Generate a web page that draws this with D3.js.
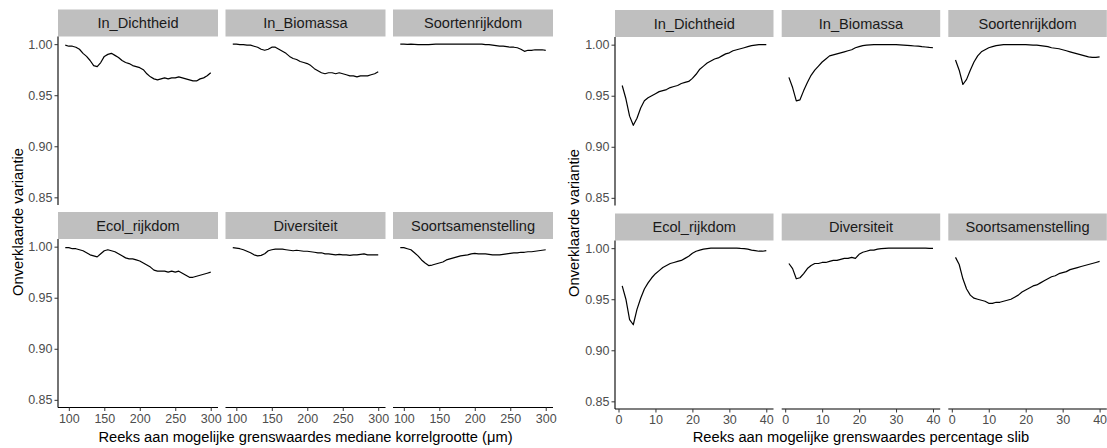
<!DOCTYPE html>
<html>
<head>
<meta charset="utf-8">
<script src="https://cdn.jsdelivr.net/npm/d3@7"></script>
<style>
  html, body { margin: 0; padding: 0; background: #fff; }
  svg { display: block; font-family: "Liberation Sans", Arial, sans-serif; }
</style>
</head>
<body>
<svg id="chart" width="1107" height="448"></svg>
<script>
// Facet names (same order in both figures)
const facetNames = ["In_Dichtheid", "In_Biomassa", "Soortenrijkdom", "Ecol_rijkdom", "Diversiteit", "Soortsamenstelling"];

// Shared y axis
const yTicks = [0.85, 0.90, 0.95, 1.00];
const yTickLabels = ["0.85", "0.90", "0.95", "1.00"];
const yTitle = "Onverklaarde variantie";

// Figure 1: threshold on median grain size (µm)
const korrelTicks = [100, 150, 200, 250, 300];
const korrelTickLabels = ["100", "150", "200", "250", "300"];
const korrelGrens = [95, 100, 105, 110, 115, 120, 125, 130, 135, 140, 145, 150, 155, 160, 165, 170, 175, 180, 185, 190, 195, 200,
  205, 210, 215, 220, 225, 230, 235, 240, 245, 250, 255, 260, 265, 270, 275, 280, 285, 290, 295, 300];
const korrelDichtheid = [0.999, 0.998, 0.998, 0.997, 0.995, 0.991, 0.988, 0.984, 0.979, 0.978, 0.982, 0.988, 0.990, 0.991, 0.989, 0.987,
  0.984, 0.982, 0.981, 0.979, 0.978, 0.977, 0.975, 0.971, 0.968, 0.966, 0.965, 0.966, 0.967, 0.966, 0.967, 0.967, 0.968, 0.967,
  0.966, 0.965, 0.964, 0.964, 0.966, 0.967, 0.969, 0.972];
const korrelBiomassa = [1.000, 1.000, 0.9995, 0.9995, 0.999, 0.999, 0.998, 0.997, 0.995, 0.994, 0.995, 0.997, 0.997, 0.995, 0.993, 0.991,
  0.988, 0.986, 0.985, 0.983, 0.982, 0.981, 0.979, 0.976, 0.974, 0.972, 0.971, 0.972, 0.972, 0.971, 0.972, 0.971, 0.970, 0.969,
  0.969, 0.968, 0.969, 0.969, 0.969, 0.970, 0.971, 0.973];
const korrelSoortenrijkdom = [1.000, 1.000, 0.9998, 1.000, 0.9998, 0.9995, 0.9995, 0.9995, 0.9995, 0.9998, 1.000, 1.000, 1.000, 1.000, 1.000, 1.000,
  1.000, 1.000, 1.000, 1.000, 1.000, 1.000, 1.000, 1.000, 0.9995, 0.9995, 0.999, 0.9985, 0.998, 0.998, 0.9975, 0.997, 0.997, 0.9965,
  0.995, 0.993, 0.994, 0.994, 0.9945, 0.9945, 0.9945, 0.994];
const korrelEcolRijkdom = [0.999, 0.999, 0.998, 0.998, 0.997, 0.996, 0.994, 0.992, 0.991, 0.990, 0.993, 0.996, 0.997, 0.996, 0.995, 0.993,
  0.991, 0.989, 0.988, 0.988, 0.987, 0.986, 0.984, 0.982, 0.980, 0.977, 0.976, 0.976, 0.976, 0.975, 0.976, 0.975, 0.976, 0.974,
  0.972, 0.970, 0.970, 0.971, 0.972, 0.973, 0.974, 0.975];
const korrelDiversiteit = [0.999, 0.9985, 0.998, 0.997, 0.9955, 0.994, 0.992, 0.991, 0.9915, 0.993, 0.996, 0.997, 0.9975, 0.9975, 0.9975, 0.997,
  0.9965, 0.996, 0.9965, 0.996, 0.9955, 0.9955, 0.995, 0.9945, 0.994, 0.994, 0.993, 0.993, 0.9925, 0.992, 0.9925, 0.992, 0.992, 0.9915,
  0.992, 0.992, 0.9925, 0.993, 0.992, 0.992, 0.992, 0.992];
const korrelSoortsamenstelling = [0.999, 0.999, 0.998, 0.997, 0.994, 0.991, 0.987, 0.984, 0.9815, 0.982, 0.983, 0.984, 0.985, 0.987, 0.988, 0.989,
  0.990, 0.991, 0.9915, 0.992, 0.993, 0.9935, 0.993, 0.993, 0.993, 0.9925, 0.992, 0.992, 0.992, 0.9925, 0.993, 0.9935, 0.994, 0.994,
  0.9945, 0.9945, 0.995, 0.995, 0.9955, 0.996, 0.9965, 0.997];

// Figure 2: threshold on silt percentage
const slibTicks = [0, 10, 20, 30, 40];
const slibTickLabels = ["0", "10", "20", "30", "40"];
const slibGrens = [1, 2, 3, 4, 5, 6, 7, 8, 9, 10, 11, 12, 13, 14, 15, 16, 17, 18, 19, 20,
  21, 22, 23, 24, 25, 26, 27, 28, 29, 30, 31, 32, 33, 34, 35, 36, 37, 38, 39, 40];
const slibDichtheid = [0.960, 0.947, 0.930, 0.921, 0.928, 0.938, 0.945, 0.948, 0.950, 0.952, 0.954, 0.955, 0.956, 0.958, 0.959, 0.960,
  0.962, 0.963, 0.964, 0.967, 0.971, 0.976, 0.979, 0.982, 0.984, 0.986, 0.987, 0.989, 0.991, 0.992, 0.994, 0.995, 0.996, 0.997,
  0.998, 0.999, 0.9995, 1.000, 1.000, 1.000];
const slibBiomassa = [0.968, 0.958, 0.945, 0.946, 0.955, 0.963, 0.970, 0.975, 0.979, 0.983, 0.986, 0.989, 0.990, 0.991, 0.992, 0.993,
  0.994, 0.995, 0.997, 0.998, 0.999, 0.9995, 0.9998, 1.000, 1.000, 1.000, 1.000, 1.000, 1.000, 1.000, 0.9998, 0.9996, 0.9993, 0.999,
  0.9987, 0.9985, 0.998, 0.9977, 0.9973, 0.997];
const slibSoortenrijkdom = [0.985, 0.975, 0.961, 0.966, 0.975, 0.983, 0.989, 0.993, 0.995, 0.997, 0.998, 0.999, 0.9995, 1.000, 1.000, 1.000,
  1.000, 1.000, 1.000, 1.000, 0.9998, 0.9996, 0.9995, 0.999, 0.9985, 0.998, 0.997, 0.9965, 0.996, 0.995, 0.994, 0.993, 0.992, 0.991,
  0.990, 0.989, 0.988, 0.9875, 0.9875, 0.988];
const slibEcolRijkdom = [0.963, 0.950, 0.930, 0.925, 0.940, 0.951, 0.960, 0.966, 0.971, 0.975, 0.978, 0.981, 0.983, 0.985, 0.986, 0.987,
  0.988, 0.990, 0.992, 0.995, 0.997, 0.998, 0.999, 0.9995, 1.000, 1.000, 1.000, 1.000, 1.000, 1.000, 1.000, 1.000, 0.9997, 0.9995,
  0.999, 0.998, 0.9975, 0.997, 0.997, 0.9975];
const slibDiversiteit = [0.985, 0.980, 0.970, 0.971, 0.975, 0.980, 0.983, 0.985, 0.985, 0.986, 0.986, 0.987, 0.988, 0.988, 0.989, 0.990,
  0.990, 0.991, 0.990, 0.994, 0.996, 0.997, 0.998, 0.998, 0.999, 0.9995, 0.9998, 1.000, 1.000, 1.000, 1.000, 1.000, 1.000, 1.000,
  1.000, 1.000, 1.000, 1.000, 0.9998, 0.9998];
const slibSoortsamenstelling = [0.991, 0.984, 0.970, 0.960, 0.954, 0.951, 0.950, 0.949, 0.948, 0.946, 0.946, 0.947, 0.947, 0.948, 0.949, 0.950,
  0.952, 0.954, 0.957, 0.959, 0.961, 0.963, 0.964, 0.966, 0.968, 0.970, 0.972, 0.973, 0.975, 0.976, 0.977, 0.979, 0.980, 0.981,
  0.982, 0.983, 0.984, 0.985, 0.986, 0.987];

const svg = d3.select("#chart");

const figures = [
  {
    x: korrelGrens,
    series: [korrelDichtheid, korrelBiomassa, korrelSoortenrijkdom, korrelEcolRijkdom, korrelDiversiteit, korrelSoortsamenstelling],
    xTicks: korrelTicks, xTickLabels: korrelTickLabels,
    xTitle: "Reeks aan mogelijke grenswaardes mediane korrelgrootte (\u03BCm)",
    cols: [58, 225.5, 393], panelW: 160,
    rows: [36.5, 239], panelH: 168.5,
    yTitleX: 18
  },
  {
    x: slibGrens,
    series: [slibDichtheid, slibBiomassa, slibSoortenrijkdom, slibEcolRijkdom, slibDiversiteit, slibSoortsamenstelling],
    xTicks: slibTicks, xTickLabels: slibTickLabels,
    xTitle: "Reeks aan mogelijke grenswaardes percentage slib",
    cols: [615, 781.7, 948.3], panelW: 158.5,
    rows: [37, 240.5], panelH: 168.5,
    yTitleX: 574
  }
];

const stripH = 27;
const tickLen = 3.5;
const tickColor = "#333333";
const tickTextColor = "#4d4d4d";

function drawFigure(fig) {
  const g = svg.append("g");
  const xExt = d3.extent(fig.x);
  const pad = (xExt[1] - xExt[0]) * 0.05;
  const yLo = 0.85, yHi = 1.00, yPad = (yHi - yLo) * 0.05;

  fig.series.forEach((vals, i) => {
    const r = Math.floor(i / 3), c = i % 3;
    const left = fig.cols[c], top = fig.rows[r];
    const x = d3.scaleLinear().domain([xExt[0] - pad, xExt[1] + pad]).range([left, left + fig.panelW]);
    const y = d3.scaleLinear().domain([yLo - yPad, yHi + yPad]).range([top + fig.panelH, top]);

    // strip
    g.append("rect")
      .attr("x", left).attr("y", top - stripH)
      .attr("width", fig.panelW).attr("height", stripH)
      .attr("fill", "#bfbfbf");
    g.append("text")
      .attr("x", left + fig.panelW / 2).attr("y", top - stripH / 2)
      .attr("dy", "0.36em")
      .attr("text-anchor", "middle")
      .attr("font-size", 14.6).attr("fill", "#1a1a1a")
      .text(facetNames[i]);

    // y axis on first column
    if (c === 0) {
      const ya = g.append("g")
        .attr("transform", `translate(${left},0)`)
        .call(d3.axisLeft(y).tickValues(yTicks).tickSize(tickLen).tickPadding(2)
          .tickFormat((d, k) => yTickLabels[k]));
      ya.select(".domain").attr("stroke", "#000").attr("stroke-width", 1.1)
        .attr("d", `M0,${top}V${top + fig.panelH}`);
      ya.selectAll(".tick line").attr("stroke", tickColor);
      ya.selectAll(".tick text").attr("fill", tickTextColor).attr("font-size", 12.5)
        .attr("font-family", "Liberation Sans, Arial, sans-serif");
    }

    // x axis on bottom row
    if (r === 1) {
      const xa = g.append("g")
        .attr("transform", `translate(0,${top + fig.panelH})`)
        .call(d3.axisBottom(x).tickValues(fig.xTicks).tickSize(tickLen).tickPadding(3)
          .tickFormat((d, k) => fig.xTickLabels[k]));
      xa.select(".domain").attr("stroke", "#000").attr("stroke-width", 1.1)
        .attr("d", `M${left},0H${left + fig.panelW}`);
      xa.selectAll(".tick line").attr("stroke", tickColor);
      xa.selectAll(".tick text").attr("fill", tickTextColor).attr("font-size", 12.5)
        .attr("font-family", "Liberation Sans, Arial, sans-serif");
    }

    // series line
    const line = d3.line().x((d, k) => x(fig.x[k])).y(d => y(d));
    g.append("path")
      .datum(vals)
      .attr("fill", "none")
      .attr("stroke", "#000")
      .attr("stroke-width", 1.2)
      .attr("stroke-linejoin", "round")
      .attr("d", line);
  });

  // axis titles
  const midX = (fig.cols[0] + fig.cols[2] + fig.panelW) / 2;
  g.append("text")
    .attr("x", midX).attr("y", 442)
    .attr("text-anchor", "middle")
    .attr("font-size", 14.7).attr("fill", "#000")
    .text(fig.xTitle);
  const midY = (fig.rows[0] + fig.rows[1] + fig.panelH) / 2;
  g.append("text")
    .attr("transform", `translate(${fig.yTitleX},${midY}) rotate(-90)`)
    .attr("dy", "0.36em")
    .attr("text-anchor", "middle")
    .attr("font-size", 14.7).attr("fill", "#000")
    .text(yTitle);
}

figures.forEach(drawFigure);
</script>
</body>
</html>
